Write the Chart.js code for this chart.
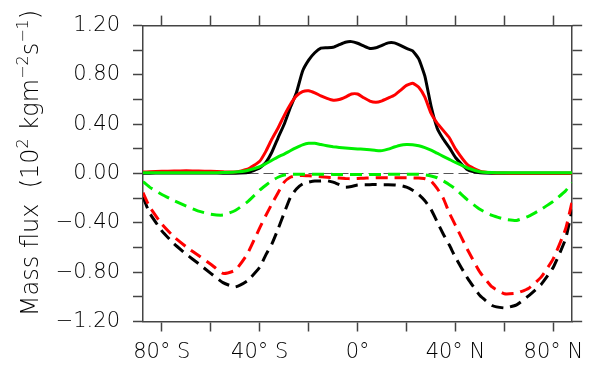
<!DOCTYPE html>
<html>
<head>
<meta charset="utf-8">
<script src="https://cdn.jsdelivr.net/npm/chart.js@4.4.1/dist/chart.umd.min.js"></script>
<style>
  html, body { margin: 0; padding: 0; background: #fff; }
  canvas { display: block; }
</style>
</head>
<body>
<canvas id="fluxChart" width="592" height="367"></canvas>
<script>
// latitude (deg, negative = south)
const lats = [-87.7, -85, -80, -75, -70, -65, -60, -55, -50, -45,
  -40, -37.5, -35, -32.5, -30, -27.5, -25, -22.5, -20, -17.5, -15, -12.5, -10, -7.5, -5, -2.5,
  0, 2.5, 5, 7.5, 10, 12.5, 15, 17.5, 20, 22.5, 25, 27.5, 30, 32.5, 35, 37.5, 40,
  45, 50, 55, 60, 65, 70, 75, 80, 85, 87.7];

// upward mass flux (solid)
const upBlack = [0.003, 0.003, 0.004, 0.005, 0.005, 0.005, 0.004, 0.003, 0.003, 0.008,
  0.045, 0.09, 0.175, 0.29, 0.40, 0.535, 0.655, 0.83, 0.92, 0.98, 1.018, 1.02, 1.024, 1.045, 1.065, 1.07,
  1.057, 1.035, 1.015, 1.02, 1.04, 1.06, 1.06, 1.04, 1.015, 0.995, 0.93, 0.79, 0.55, 0.37, 0.28, 0.21, 0.13,
  0.03, 0.006, 0.003, 0.003, 0.003, 0.003, 0.003, 0.003, 0.003, 0.003];
const upRed = [0.012, 0.015, 0.018, 0.02, 0.022, 0.02, 0.018, 0.014, 0.012, 0.035,
  0.10, 0.18, 0.28, 0.37, 0.47, 0.56, 0.63, 0.665, 0.672, 0.655, 0.63, 0.61, 0.595, 0.60, 0.62, 0.645,
  0.645, 0.615, 0.588, 0.578, 0.59, 0.612, 0.635, 0.675, 0.715, 0.732, 0.70, 0.62, 0.49, 0.41, 0.35, 0.29, 0.20,
  0.07, 0.02, 0.007, 0.004, 0.003, 0.003, 0.003, 0.003, 0.003, 0.003];
const upGreen = [0.006, 0.007, 0.007, 0.007, 0.007, 0.007, 0.007, 0.008, 0.012, 0.025,
  0.055, 0.08, 0.108, 0.135, 0.158, 0.185, 0.21, 0.232, 0.245, 0.245, 0.235, 0.226, 0.218, 0.212, 0.207, 0.203,
  0.20, 0.197, 0.193, 0.187, 0.186, 0.198, 0.215, 0.23, 0.235, 0.233, 0.225, 0.21, 0.19, 0.165, 0.14, 0.115, 0.09,
  0.045, 0.015, 0.008, 0.006, 0.006, 0.006, 0.006, 0.006, 0.006, 0.006];

// downward mass flux (dashed)
const downBlack = [-0.19, -0.32, -0.465, -0.57, -0.655, -0.73, -0.81, -0.885, -0.92, -0.87,
  -0.76, -0.66, -0.57, -0.45, -0.32, -0.195, -0.125, -0.085, -0.07, -0.06, -0.06, -0.058, -0.07, -0.09, -0.11, -0.105,
  -0.093, -0.09, -0.09, -0.088, -0.09, -0.09, -0.092, -0.097, -0.11, -0.135, -0.17, -0.22, -0.29, -0.39, -0.49, -0.58, -0.68,
  -0.85, -0.99, -1.07, -1.09, -1.065, -0.99, -0.90, -0.76, -0.53, -0.29];
const downRed = [-0.155, -0.27, -0.41, -0.515, -0.595, -0.665, -0.735, -0.81, -0.785, -0.65,
  -0.44, -0.34, -0.245, -0.155, -0.07, -0.03, -0.018, -0.015, -0.018, -0.022, -0.026, -0.03, -0.033, -0.036, -0.04, -0.042,
  -0.04, -0.038, -0.036, -0.035, -0.034, -0.034, -0.034, -0.034, -0.034, -0.035, -0.037, -0.042, -0.06, -0.12, -0.20, -0.32, -0.42,
  -0.62, -0.80, -0.92, -0.975, -0.97, -0.93, -0.84, -0.69, -0.45, -0.225];
const downGreen = [-0.065, -0.11, -0.17, -0.22, -0.265, -0.305, -0.33, -0.337, -0.30, -0.23,
  -0.135, -0.095, -0.057, -0.03, -0.012, -0.007, -0.006, -0.005, -0.005, -0.005, -0.005, -0.006, -0.007, -0.007, -0.008, -0.008,
  -0.008, -0.008, -0.007, -0.007, -0.007, -0.006, -0.006, -0.006, -0.006, -0.006, -0.006, -0.01, -0.02, -0.034, -0.06, -0.09, -0.125,
  -0.215, -0.29, -0.34, -0.37, -0.38, -0.345, -0.29, -0.225, -0.14, -0.075];

const xTickVals = [-80, -60, -40, -20, 0, 20, 40, 60, 80];
const xTickLabels = ['80° S', '', '40° S', '', '0°', '', '40° N', '', '80° N'];
const latMin = -87.7, latMax = 87.7;
const yMin = -1.2, yMax = 1.2;

const FONT = "'DejaVu Sans', sans-serif";
const TEXT = '#000';
const AXIS = '#444';

function pts(vals) {
  return lats.map((lat, i) => ({ x: lat, y: vals[i] }));
}

function series(vals, color, dashed, order) {
  return {
    data: pts(vals),
    borderColor: color,
    borderWidth: 3,
    borderDash: dashed ? [12, 7] : [],
    pointRadius: 0,
    tension: 0.15,
    fill: false,
    order: order
  };
}

function yLabel(v) {
  const tenths = Math.round(v * 10);
  if (tenths % 4 !== 0) return '';
  const r = tenths / 10;
  return (r < 0 ? '\u2212' : '') + Math.abs(r).toFixed(2);
}

// y-axis title with real superscripts
const yTitle = [
  ['Mass flux  (10', false], ['2', true], [' kgm', false], ['\u22122', true],
  ['s', false], ['\u22121', true], [')', false]
];
const titlePlugin = {
  id: 'yTitle',
  afterDraw(chart) {
    const ctx = chart.ctx;
    const big = 24, small = 16;
    ctx.save();
    ctx.fillStyle = TEXT;
    ctx.textBaseline = 'alphabetic';
    let total = 0;
    yTitle.forEach(([t, sup]) => {
      ctx.font = '300 ' + (sup ? small : big) + 'px ' + FONT;
      total += ctx.measureText(t).width;
    });
    ctx.translate(38, 163 + total / 2);
    ctx.rotate(-Math.PI / 2);
    let x = 0;
    yTitle.forEach(([t, sup]) => {
      ctx.font = '300 ' + (sup ? small : big) + 'px ' + FONT;
      ctx.fillText(t, x, sup ? -10 : 0);
      x += ctx.measureText(t).width;
    });
    ctx.restore();
  }
};

const grid = {
  drawOnChartArea: false,
  drawTicks: true,
  tickLength: 10,
  tickColor: AXIS,
  tickWidth: 1.5
};
const border = { color: AXIS, width: 1.5 };
const tickFont = { family: FONT, size: 21, weight: 300 };

new Chart(document.getElementById('fluxChart').getContext('2d'), {
  type: 'line',
  data: {
    datasets: [
      series(upBlack, '#000000', false, 6),
      series(upRed, '#ff0000', false, 5),
      series(upGreen, '#00f000', false, 4),
      series(downBlack, '#000000', true, 3),
      series(downRed, '#ff0000', true, 2),
      series(downGreen, '#00f000', true, 1)
    ]
  },
  options: {
    responsive: false,
    animation: false,
    devicePixelRatio: 1,
    layout: { padding: 0 },
    plugins: { legend: { display: false }, tooltip: { enabled: false } },
    scales: {
      x: {
        type: 'linear', position: 'bottom', min: latMin, max: latMax,
        afterBuildTicks: s => { s.ticks = xTickVals.map(v => ({ value: v })); },
        afterFit: s => { s.height = 45.5; },
        ticks: {
          autoSkip: false, maxRotation: 0, padding: 8,
          color: TEXT, font: tickFont,
          callback: (v, i) => xTickLabels[i]
        },
        grid: grid, border: border
      },
      xTop: {
        type: 'linear', position: 'top', min: latMin, max: latMax,
        afterBuildTicks: s => { s.ticks = xTickVals.map(v => ({ value: v })); },
        afterFit: s => { s.height = 16.5; },
        ticks: { display: false },
        grid: grid, border: border
      },
      y: {
        type: 'linear', position: 'left', min: yMin, max: yMax,
        afterFit: s => { s.width = 143; },
        ticks: {
          stepSize: 0.2, padding: 13, autoSkip: false,
          color: TEXT, font: tickFont,
          callback: v => yLabel(v)
        },
        grid: {
          drawOnChartArea: true,
          drawTicks: true,
          tickLength: 10,
          tickColor: AXIS,
          tickWidth: 1.5,
          color: c => (c.tick && Math.abs(c.tick.value) < 1e-9) ? '#555' : 'rgba(0,0,0,0)',
          lineWidth: 1
        },
        border: { color: AXIS, width: 1.5, dash: [10, 5] }
      },
      yRight: {
        type: 'linear', position: 'right', min: yMin, max: yMax,
        afterFit: s => { s.width = 16.3; },
        ticks: { display: false, stepSize: 0.2 },
        grid: grid, border: border
      }
    }
  },
  plugins: [titlePlugin]
});
</script>
</body>
</html>
